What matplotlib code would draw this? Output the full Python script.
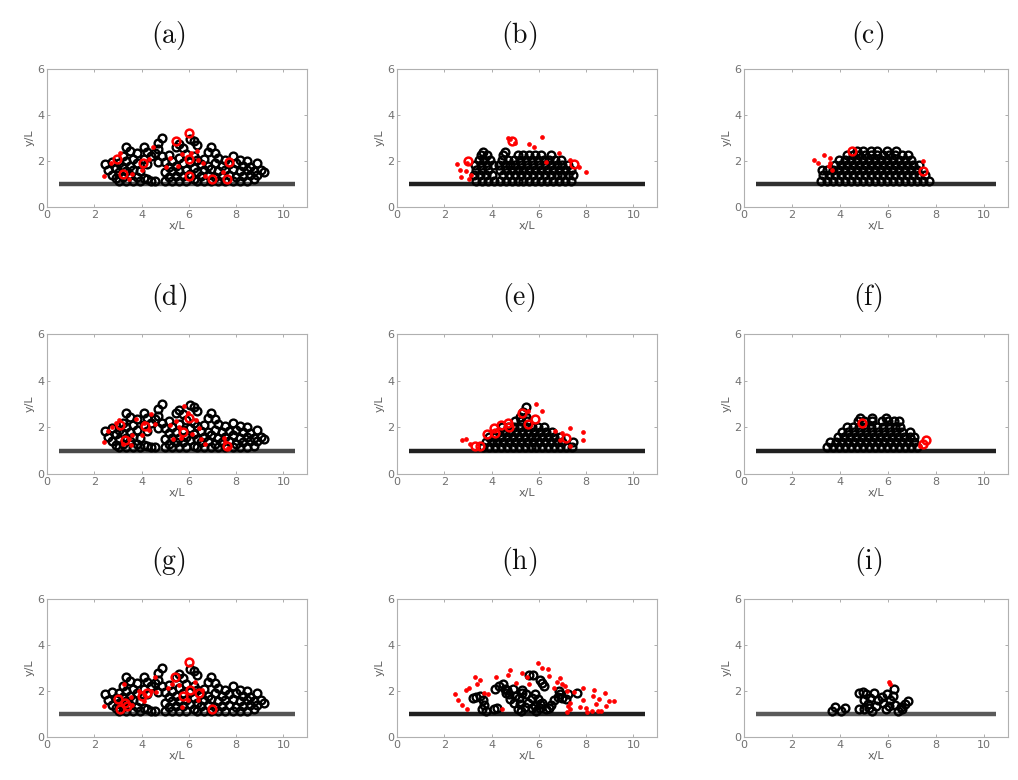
import matplotlib
matplotlib.use('Agg')
import matplotlib.pyplot as plt

plt.rcParams['mathtext.fontset'] = 'cm'

# ---------------------------------------------------------------------
# particle positions (x/L, y/L)
# loose piles are written as (x, [y, ...]) columns,
# packed piles as (y, [x, ...]) rows
# ---------------------------------------------------------------------

# loose pile used in (a), (d), (g)
pile_loose = [
    (2.45, [1.85]), (2.6, [1.6]), (2.75, [1.4, 1.95]), (2.9, [1.25, 1.7]),
    (3.05, [1.15, 1.5, 1.9]), (3.2, [1.3, 1.75, 2.2]), (3.35, [1.15, 1.55, 2.0, 2.6]),
    (3.5, [1.4, 1.8, 2.45]), (3.65, [1.15, 1.6, 2.1]), (3.8, [1.3, 1.9, 2.35]),
    (3.95, [1.15, 1.55]), (4.1, [1.25, 2.1, 2.6]), (4.25, [1.2, 1.85, 2.4]),
    (4.4, [1.15, 2.2]), (4.55, [1.15, 2.35]), (4.7, [1.95, 2.5, 2.8]),
    (4.85, [2.2, 3.0]), (5.0, [1.15, 1.5, 1.95]), (5.15, [1.3, 1.75, 2.25]),
    (5.3, [1.15, 1.55, 2.0]), (5.45, [1.35, 1.8, 2.6]), (5.6, [1.15, 1.55, 2.15, 2.75]),
    (5.75, [1.35, 1.9, 2.55]), (5.9, [1.15, 1.6, 2.3]), (6.05, [1.45, 1.95, 2.95]),
    (6.2, [1.2, 1.7, 2.2, 2.85]), (6.35, [1.15, 1.5, 2.05, 2.7]), (6.5, [1.35, 1.85]),
    (6.65, [1.15, 1.6, 2.1]), (6.8, [1.4, 1.8, 2.4]), (6.95, [1.15, 1.65, 2.6]),
    (7.1, [1.3, 1.9, 2.35]), (7.25, [1.15, 1.55, 2.15]), (7.4, [1.35, 1.8]),
    (7.55, [1.15, 1.6, 2.05]), (7.7, [1.4, 1.85]), (7.85, [1.15, 1.65, 2.2]),
    (8.0, [1.3, 1.9]), (8.15, [1.15, 1.55, 2.05]), (8.3, [1.35, 1.8]),
    (8.45, [1.15, 1.6, 2.0]), (8.6, [1.4, 1.75]), (8.75, [1.2, 1.55]),
    (8.9, [1.4, 1.9]), (9.05, [1.6]), (9.2, [1.5]),
]

pile_b = [
    (1.15, [3.35, 3.6, 3.85, 4.1, 4.35, 4.6, 4.85, 5.1, 5.35, 5.6, 5.85, 6.1, 6.35, 6.6, 6.85, 7.1, 7.35]),
    (1.37, [3.25, 3.5, 3.75, 4.0, 4.5, 4.75, 5.0, 5.25, 5.5, 5.75, 6.0, 6.25, 6.5, 6.75, 7.0, 7.25, 7.45]),
    (1.6, [3.35, 3.6, 3.85, 4.35, 4.6, 4.85, 5.1, 5.35, 5.6, 5.85, 6.1, 6.35, 6.6, 6.85, 7.1, 7.35]),
    (1.82, [3.3, 3.55, 3.8, 4.05, 4.3, 4.55, 4.8, 5.0, 5.25, 5.5, 5.75, 6.0, 6.25, 6.5, 6.75, 7.0, 7.25]),
    (2.04, [3.45, 3.7, 3.95, 4.45, 4.7, 4.95, 5.2, 5.45, 5.7, 5.95, 6.2, 6.45, 6.7, 6.95]),
    (2.26, [3.55, 3.8, 4.5, 5.1, 5.35, 5.6, 5.85, 6.1, 6.5]),
    (2.4, [3.65, 4.55]),
]

pile_c = [
    (1.15, [3.2, 3.45, 3.7, 3.95, 4.2, 4.45, 4.7, 4.95, 5.2, 5.45, 5.7, 5.95, 6.2, 6.45, 6.7, 6.95, 7.2, 7.45, 7.7]),
    (1.37, [3.3, 3.55, 3.8, 4.05, 4.3, 4.55, 4.8, 5.05, 5.3, 5.55, 5.8, 6.05, 6.3, 6.55, 6.8, 7.05, 7.3, 7.55]),
    (1.59, [3.25, 3.45, 3.7, 3.95, 4.2, 4.45, 4.7, 4.95, 5.2, 5.45, 5.7, 5.95, 6.2, 6.45, 6.7, 6.95, 7.2]),
    (1.81, [3.8, 4.05, 4.3, 4.55, 4.8, 5.05, 5.3, 5.55, 5.8, 6.05, 6.3, 6.55, 6.8, 7.05, 7.3]),
    (2.03, [3.95, 4.2, 4.45, 4.7, 4.95, 5.2, 5.45, 5.7, 5.95, 6.2, 6.45, 6.7, 6.95]),
    (2.25, [4.3, 4.55, 4.8, 5.05, 5.3, 5.55, 5.8, 6.05, 6.3, 6.6, 6.85]),
    (2.45, [4.7, 4.95, 5.3, 5.55, 5.95, 6.35]),
]

pile_e = [
    (1.15, [3.65, 3.9, 4.15, 4.4, 4.65, 4.9, 5.15, 5.4, 5.65, 5.9, 6.15, 6.4, 6.65, 6.9, 7.15, 7.4]),
    (1.37, [3.75, 4.0, 4.25, 4.5, 4.75, 5.0, 5.25, 5.5, 5.75, 6.0, 6.25, 6.5, 6.75, 7.0, 7.45]),
    (1.59, [3.9, 4.15, 4.4, 4.65, 4.9, 5.15, 5.4, 5.65, 5.9, 6.15, 6.4, 6.65, 6.9]),
    (1.81, [4.3, 4.55, 4.8, 5.05, 5.3, 5.55, 5.8, 6.05, 6.3, 6.55]),
    (2.03, [4.45, 4.7, 4.95, 5.2, 5.45, 5.7, 5.95, 6.2]),
    (2.25, [5.0, 5.25, 5.5]),
    (2.45, [5.2, 5.45]),
    (2.65, [5.35]),
    (2.85, [5.45]),
]

pile_f = [
    (1.15, [3.45, 3.7, 3.95, 4.2, 4.45, 4.7, 4.95, 5.2, 5.45, 5.7, 5.95, 6.2, 6.45, 6.7, 6.95, 7.2]),
    (1.37, [3.6, 3.85, 4.1, 4.35, 4.6, 4.85, 5.1, 5.35, 5.6, 5.85, 6.1, 6.35, 6.6, 6.85, 7.1]),
    (1.59, [3.9, 4.15, 4.4, 4.65, 4.9, 5.15, 5.4, 5.65, 5.9, 6.15, 6.4, 6.65, 6.9, 7.1]),
    (1.81, [4.1, 4.35, 4.6, 4.85, 5.1, 5.35, 5.6, 5.85, 6.1, 6.35, 6.6, 6.9]),
    (2.03, [4.3, 4.55, 4.8, 5.05, 5.3, 5.55, 5.8, 6.05, 6.3, 6.5]),
    (2.25, [4.75, 5.0, 5.35, 5.75, 6.0, 6.25, 6.45]),
    (2.4, [4.85, 5.35, 5.9]),
]

black_h_x = [3.2, 3.35, 3.5, 3.65, 3.7, 3.6, 3.75, 4.1, 4.25, 4.15, 4.3, 4.5, 4.55, 4.6, 4.75,
             4.8, 4.95, 5.0, 5.15, 5.3, 5.2, 5.1, 5.25, 5.4, 5.55, 5.7, 5.85, 5.95, 6.05, 5.85,
             5.7, 5.9, 6.05, 6.15, 5.6, 5.75, 6.05, 6.15, 6.2, 6.3, 6.45, 6.5, 6.65, 6.8, 6.9,
             7.0, 7.15, 7.25, 7.6, 6.85, 5.45, 5.3, 4.9, 4.65]
black_h_y = [1.7, 1.75, 1.8, 1.6, 1.4, 1.2, 1.15, 1.2, 1.25, 2.1, 2.2, 2.3, 2.1, 1.9, 1.85,
             1.65, 1.5, 1.8, 1.7, 1.9, 1.45, 1.2, 1.15, 1.3, 1.5, 1.7, 1.85, 1.65, 1.45, 1.35,
             1.25, 1.15, 1.25, 1.5, 2.7, 2.7, 2.5, 2.35, 2.2, 1.2, 1.25, 1.4, 1.6, 1.75, 1.85,
             1.7, 1.65, 1.85, 1.9, 2.0, 1.85, 2.05, 2.1, 2.05]

black_i_x = [3.65, 3.8, 4.05, 4.2, 4.8, 4.95, 5.1, 5.25, 5.4, 5.0, 5.15, 4.8, 5.0, 5.2, 5.35,
             5.5, 5.6, 5.75, 5.8, 5.9, 6.05, 6.1, 6.2, 6.3, 6.4, 6.55, 6.7, 6.85, 6.6, 5.95, 6.25]
black_i_y = [1.15, 1.3, 1.15, 1.25, 1.9, 1.95, 1.85, 1.7, 1.9, 1.6, 1.45, 1.2, 1.2, 1.25, 1.15,
             1.35, 1.6, 1.75, 1.5, 1.2, 1.35, 1.6, 1.8, 1.4, 1.15, 1.3, 1.45, 1.55, 1.2, 1.85, 2.1]

# red particles: full-size rings and small dots
ring_a = [(5.45, 2.85), (6.0, 3.2), (7.7, 1.95), (4.05, 1.9), (3.2, 1.45), (7.0, 1.2),
          (7.6, 1.2), (6.0, 1.35), (6.0, 2.1), (2.95, 2.1)]
dot_a = [(2.4, 1.35), (2.7, 1.9), (3.1, 2.35), (3.6, 1.45), (4.3, 2.1), (4.5, 2.6), (5.2, 2.15),
         (5.55, 1.8), (6.1, 2.35), (6.4, 2.05), (6.7, 1.35), (6.35, 2.45), (5.7, 2.3), (4.0, 1.6),
         (3.45, 1.2), (5.05, 1.75), (6.6, 1.9), (7.45, 1.5)]

ring_d = [(6.0, 2.4), (3.3, 1.45), (3.1, 2.1), (7.6, 1.2), (4.15, 2.05), (5.75, 1.8)]
dot_d = [(2.4, 1.35), (2.6, 1.85), (2.75, 2.0), (2.9, 2.2), (3.05, 2.3), (3.2, 1.3), (3.45, 1.5),
         (3.55, 1.25), (3.6, 1.65), (3.75, 2.35), (4.0, 1.65), (4.1, 2.2), (4.3, 1.9), (4.4, 2.55),
         (4.55, 2.15), (5.2, 2.1), (5.35, 1.5), (5.45, 2.25), (5.6, 2.0), (5.65, 1.55), (5.8, 2.9),
         (6.15, 1.7), (6.3, 2.3), (6.45, 1.95), (6.5, 1.5), (6.7, 1.3), (7.55, 1.35), (7.65, 1.1),
         (7.5, 1.55), (5.95, 2.6)]

ring_g = [(6.0, 3.25), (5.4, 2.6), (4.25, 1.9), (4.0, 1.8), (3.1, 1.2), (3.3, 1.5), (3.0, 1.65),
          (7.0, 1.2), (5.75, 1.8), (6.45, 1.9), (6.05, 2.05), (3.4, 1.35)]
dot_g = [(2.4, 1.35), (3.25, 2.3), (3.6, 1.4), (3.9, 2.0), (4.1, 1.55), (4.4, 2.0), (4.55, 2.6),
         (5.1, 2.15), (5.3, 2.3), (5.6, 2.25), (5.7, 1.3), (6.25, 2.4), (6.4, 1.6), (6.55, 2.05),
         (4.6, 1.95), (5.95, 1.6), (3.55, 1.75)]

ring_b = [(3.0, 1.98), (4.85, 2.85), (7.5, 1.85)]
dot_b = [(2.55, 1.85), (2.65, 1.6), (2.7, 1.3), (2.9, 1.55), (3.05, 1.2), (3.15, 1.4), (4.7, 3.0),
         (4.8, 2.95), (5.0, 2.8), (5.6, 2.75), (5.8, 2.6), (6.15, 3.05), (6.85, 2.35), (6.3, 1.95),
         (7.3, 2.05), (7.7, 1.75), (8.0, 1.5), (2.95, 1.9)]

ring_c = [(4.5, 2.45), (7.45, 1.55)]
dot_c = [(2.9, 2.05), (3.1, 1.9), (3.35, 2.25), (3.6, 2.15), (3.6, 1.9), (3.65, 1.6), (3.55, 1.8),
         (7.45, 2.0)]

ring_e = [(3.8, 1.7), (4.1, 1.95), (4.15, 1.75), (4.4, 2.1), (4.7, 2.2), (4.75, 2.0), (5.3, 2.6),
          (5.85, 2.35), (5.55, 2.15), (3.3, 1.2), (3.5, 1.2), (7.15, 1.55)]
dot_e = [(2.75, 1.45), (2.9, 1.5), (3.1, 1.3), (5.55, 2.7), (5.9, 3.0), (6.15, 2.7), (6.7, 1.85),
         (7.0, 1.75), (7.3, 1.95), (7.85, 1.8), (7.85, 1.45), (7.3, 1.2), (6.9, 1.45)]

ring_f = [(4.9, 2.2), (7.45, 1.3), (7.6, 1.45)]
dot_f = [(7.35, 1.2)]

ring_h = []
dot_h = [(2.45, 1.85), (2.6, 1.6), (2.75, 1.4), (2.95, 1.2), (2.9, 2.05), (3.05, 2.15), (3.3, 2.6),
         (3.5, 2.5), (3.4, 2.3), (3.7, 1.9), (3.85, 1.85), (4.2, 2.6), (4.45, 1.2), (4.7, 2.7),
         (4.8, 2.9), (5.05, 2.35), (5.3, 2.8), (5.5, 2.6), (5.6, 2.3), (5.95, 3.2), (6.15, 3.0),
         (6.4, 2.95), (6.45, 2.65), (6.65, 2.15), (6.75, 2.4), (6.9, 2.55), (7.0, 2.3), (7.1, 2.2),
         (7.2, 2.0), (7.3, 1.5), (7.25, 1.35), (7.2, 1.1), (7.3, 1.2), (7.5, 1.95), (7.75, 1.3),
         (7.85, 2.15), (8.0, 1.25), (8.05, 1.1), (8.3, 1.8), (8.35, 2.05), (8.4, 1.45), (8.5, 1.15),
         (8.55, 1.65), (8.65, 1.15), (8.8, 1.9), (8.85, 1.35), (8.95, 1.55), (9.2, 1.55),
         (8.25, 1.15), (7.85, 1.6)]

ring_i = []
dot_i = [(6.05, 2.4), (6.1, 2.3)]

labels = ['(a)', '(b)', '(c)', '(d)', '(e)', '(f)', '(g)', '(h)', '(i)']

# wall / floor segment
floor_x = [0.5, 10.5]
floor_y = [1.0, 1.0]


def columns(pile):
    xs, ys = [], []
    for x, col in pile:
        for y in col:
            xs.append(x)
            ys.append(y)
    return xs, ys


def rows(pile):
    xs, ys = [], []
    for y, row in pile:
        for x in row:
            xs.append(x)
            ys.append(y)
    return xs, ys


def split(points):
    return [p[0] for p in points], [p[1] for p in points]


loose_x, loose_y = columns(pile_loose)
black = [
    (loose_x, loose_y), rows(pile_b), rows(pile_c),
    (loose_x, loose_y), rows(pile_e), rows(pile_f),
    (loose_x, loose_y), (black_h_x, black_h_y), (black_i_x, black_i_y),
]
rings = [ring_a, ring_b, ring_c, ring_d, ring_e, ring_f, ring_g, ring_h, ring_i]
dots = [dot_a, dot_b, dot_c, dot_d, dot_e, dot_f, dot_g, dot_h, dot_i]
floor_col = ['#4a4a4a', '#202020', '#303030', '#4a4a4a', '#202020', '#202020',
             '#555555', '#202020', '#5a5a5a']

# axes placement in pixels (left, top, right, bottom) for the 1018x780 canvas
col_lr = [(47, 307), (397, 657), (744, 1008)]
row_tb = [(69, 207), (334, 474), (599, 737)]
title_y = [35, 298, 562]

fig = plt.figure(figsize=(10.18, 7.8), dpi=100)

for k in range(9):
    r, c = divmod(k, 3)
    l, rr = col_lr[c]
    t, b = row_tb[r]
    ax = fig.add_axes([l / 1018, 1 - b / 780, (rr - l) / 1018, (b - t) / 780])

    ax.plot(floor_x, floor_y, color=floor_col[k], lw=3.2, solid_capstyle='butt', zorder=1)

    bx, by = black[k]
    ax.plot(bx, by, 'o', ms=5.6, mfc='none', mec='black', mew=1.7, zorder=2)
    if rings[k]:
        rx, ry = split(rings[k])
        ax.plot(rx, ry, 'o', ms=5.6, mfc='none', mec='red', mew=1.8, zorder=3)
    if dots[k]:
        dx, dy = split(dots[k])
        ax.plot(dx, dy, 'o', ms=2.8, mfc='red', mec='red', mew=0.5, zorder=3)

    ax.set_xlim(0, 11)
    ax.set_ylim(0, 6)
    ax.set_xticks([0, 2, 4, 6, 8, 10])
    ax.set_yticks([0, 2, 4, 6])
    ax.tick_params(direction='in', length=2.5, width=0.6, colors='#a0a0a0',
                   labelcolor='#707070', labelsize=8, top=True, right=True, pad=2)
    for s in ax.spines.values():
        s.set_color('#b0b0b0')
        s.set_linewidth(0.8)
    ax.set_xlabel('x/L', fontsize=8, color='#606060', labelpad=1)
    ax.set_ylabel('y/L', fontsize=8, color='#606060', labelpad=2)

    fig.text((l + rr) / 2 / 1018 - 0.008, 1 - title_y[r] / 780, r'$\mathrm{' + labels[k] + '}$',
             fontsize=20, ha='center', va='center', color='#101010')

fig.savefig('out.png', dpi=100)
